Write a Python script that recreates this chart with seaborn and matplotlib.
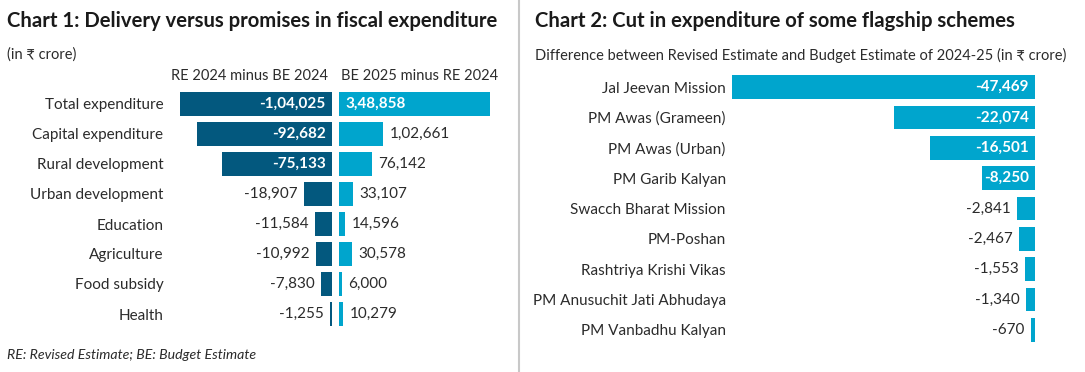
import matplotlib
matplotlib.use('Agg')
import matplotlib.pyplot as plt
import pandas as pd
import seaborn as sns

# --- data ---
categories = ['Total expenditure', 'Capital expenditure', 'Rural development',
              'Urban development', 'Education', 'Agriculture', 'Food subsidy', 'Health']
re_minus_be = [-104025, -92682, -75133, -18907, -11584, -10992, -7830, -1255]
be_minus_re = [348858, 102661, 76142, 33107, 14596, 30578, 6000, 10279]

schemes = ['Jal Jeevan Mission', 'PM Awas (Grameen)', 'PM Awas (Urban)', 'PM Garib Kalyan',
           'Swacch Bharat Mission', 'PM-Poshan', 'Rashtriya Krishi Vikas',
           'PM Anusuchit Jati Abhudaya', 'PM Vanbadhu Kalyan']
scheme_cuts = [-47469, -22074, -16501, -8250, -2841, -2467, -1553, -1340, -670]

DARK = '#03587e'
LIGHT = '#00a5cd'
TEXT = '#2b2b2b'

sns.set_theme(style='white')
plt.rcParams['font.family'] = ['Lato', 'DejaVu Sans']


def indian(n):
    """Indian digit grouping: 1,04,025"""
    s = str(abs(int(n)))
    if len(s) > 3:
        head, tail = s[:-3], s[-3:]
        parts = []
        while len(head) > 2:
            parts.insert(0, head[-2:])
            head = head[:-2]
        if head:
            parts.insert(0, head)
        s = ','.join(parts + [tail])
    return ('-' if n < 0 else '') + s


W, H = 1085, 372
fig = plt.figure(figsize=(W / 100, H / 100), dpi=100)


def box(x0, y0, x1, y1):
    return [x0 / W, 1 - y1 / H, (x1 - x0) / W, (y1 - y0) / H]


def clean(ax, show_labels=False, pad=0):
    sns.despine(ax=ax, left=True, bottom=True)
    ax.set_xticks([])
    ax.set_xlabel('')
    ax.set_ylabel('')
    if show_labels:
        ax.tick_params(axis='y', length=0, pad=pad, labelsize=11, labelcolor=TEXT)
    else:
        ax.set_yticks([])


def add_labels(ax, values, limit, threshold):
    # big bars: bold white label at the zero end; small bars: dark label past the bar end
    for i, v in enumerate(values):
        inside = abs(v) / limit > threshold
        sign = 1 if v > 0 else -1
        ha = 'left' if v > 0 else 'right'
        if inside:
            ax.annotate(indian(v), (0, i), xytext=(4.5 * sign, 0),
                        textcoords='offset points', ha=ha, va='center',
                        color='white', fontweight='bold', fontsize=11)
        else:
            ax.annotate(indian(v), (v, i), xytext=(4.5 * sign, 0),
                        textcoords='offset points', ha=ha, va='center',
                        color=TEXT, fontsize=11, annotation_clip=False)


# --- Chart 1 ---
df1 = pd.DataFrame({'category': categories, 're_minus_be': re_minus_be,
                    'be_minus_re': be_minus_re})

ax_l = fig.add_axes(box(180, 89, 332, 329))
sns.barplot(data=df1, x='re_minus_be', y='category', color=DARK, saturation=1,
            width=0.77, linewidth=0, ax=ax_l)
ax_l.set_xlim(min(re_minus_be), 0)
clean(ax_l, show_labels=True, pad=12)
add_labels(ax_l, re_minus_be, abs(min(re_minus_be)), 0.5)

ax_r = fig.add_axes(box(339, 89, 490, 329))
sns.barplot(data=df1, x='be_minus_re', y='category', color=LIGHT, saturation=1,
            width=0.77, linewidth=0, ax=ax_r)
ax_r.set_xlim(0, max(be_minus_re))
clean(ax_r)
add_labels(ax_r, be_minus_re, max(be_minus_re), 0.5)

fig.text(7 / W, 1 - 21 / H, 'Chart 1: Delivery versus promises in fiscal expenditure',
         fontsize=14.6, fontweight='bold', color='#1a1a1a', va='center', ha='left')
fig.text(7 / W, 1 - 55 / H, '(in ₹ crore)', fontsize=10.5, color=TEXT, va='center')
fig.text(328 / W, 1 - 76 / H, 'RE 2024 minus BE 2024', fontsize=10.5, color=TEXT,
         va='center', ha='right')
fig.text(341 / W, 1 - 76 / H, 'BE 2025 minus RE 2024', fontsize=10.5, color=TEXT,
         va='center', ha='left')
fig.text(7 / W, 1 - 355 / H, 'RE: Revised Estimate; BE: Budget Estimate', fontsize=10.2,
         style='italic', color=TEXT, va='center')

# separator
fig.add_artist(plt.Line2D([519 / W, 519 / W], [0, 1], color='#c8c8c8', lw=1.5))

# --- Chart 2 ---
df2 = pd.DataFrame({'scheme': schemes, 'cut': scheme_cuts})
ax_c = fig.add_axes(box(732, 72, 1035, 345))
sns.barplot(data=df2, x='cut', y='scheme', color=LIGHT, saturation=1,
            width=0.77, linewidth=0, ax=ax_c)
ax_c.set_xlim(min(scheme_cuts), 0)
clean(ax_c, show_labels=True, pad=4.5)
add_labels(ax_c, scheme_cuts, abs(min(scheme_cuts)), 0.15)

fig.text(535 / W, 1 - 21 / H, 'Chart 2: Cut in expenditure of some flagship schemes',
         fontsize=14.6, fontweight='bold', color='#1a1a1a', va='center', ha='left')
fig.text(535 / W, 1 - 55 / H,
         'Difference between Revised Estimate and Budget Estimate of 2024-25 (in ₹ crore)',
         fontsize=10.5, color=TEXT, va='center')

fig.savefig('out.png', dpi=100, facecolor='white')
